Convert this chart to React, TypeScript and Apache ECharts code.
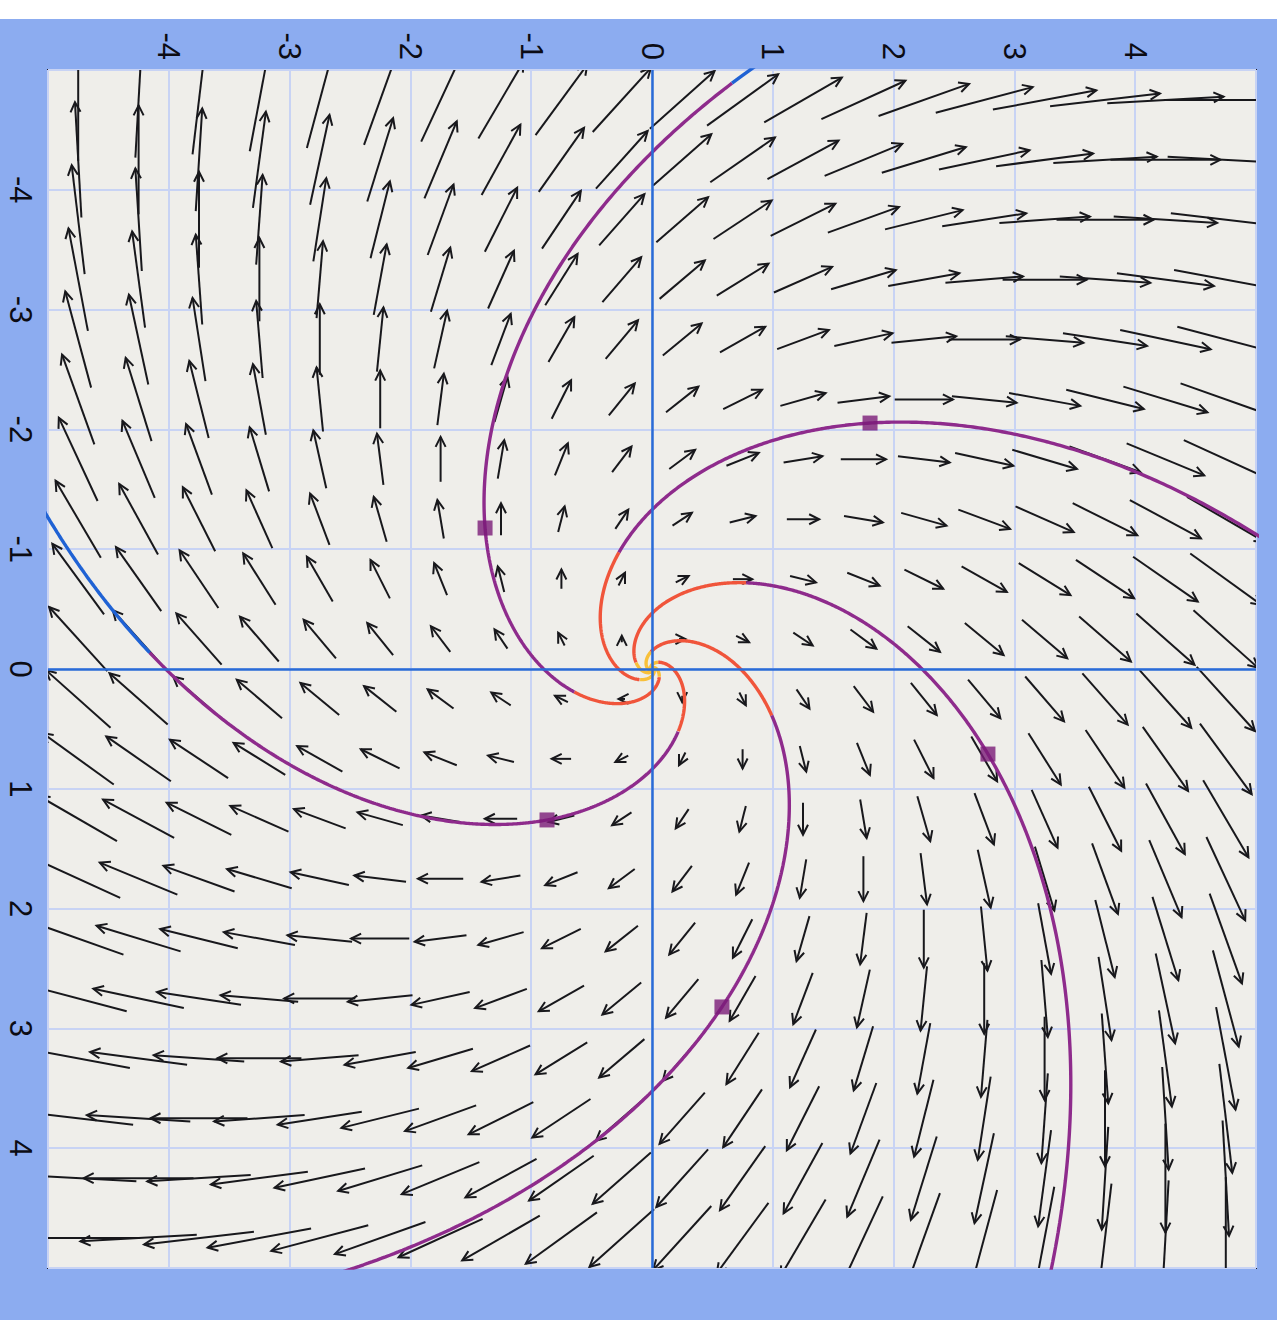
import React, { useEffect, useRef } from "react";
import * as echarts from "echarts";

// ---- axes ----
const AXIS_MIN = -5;
const AXIS_MAX = 5;
const TICK_STEP = 1;

// ---- direction-field sample positions (centres of the arrows) ----
const ARROW_COLS = [-4.75, -4.25, -3.75, -3.25, -2.75, -2.25, -1.75, -1.25, -0.75, -0.25, 0.25, 0.75, 1.25, 1.75, 2.25, 2.75, 3.25, 3.75, 4.25, 4.75];
const ARROW_ROWS = [-4.75, -4.25, -3.75, -3.25, -2.75, -2.25, -1.75, -1.25, -0.75, -0.25, 0.25, 0.75, 1.25, 1.75, 2.25, 2.75, 3.25, 3.75, 4.25, 4.75];

// ---- linear system read from the field: x' = a*x + b*y, y' = c*x + d*y ----
const FIELD_ROW_X = [1, -1];
const FIELD_ROW_Y = [1, 1];
const ARROW_SCALE = 0.107; // data units per unit of speed

// ---- initial points (square markers) of the five trajectories ----
const START_X = [1.805, -1.382, -0.869, 2.781, 0.579];
const START_Y = [-2.053, -1.177, 1.26, 0.71, 2.821];

// ---- time span and colour bands of the trajectories ----
const T_BACK = -5.5;
const T_FWD = 2.0;
const BAND_EDGES = [-3, -1, 1];
const BAND_COLORS = ["#f8c03a", "#f0553b", "#8e2b8c", "#1f62d4"];

function field(x: number, y: number): [number, number] {
  return [FIELD_ROW_X[0] * x + FIELD_ROW_X[1] * y, FIELD_ROW_Y[0] * x + FIELD_ROW_Y[1] * y];
}

function integrate(x0: number, y0: number, h: number, tStop: number) {
  const pts: { t: number; x: number; y: number }[] = [];
  let x = x0, y = y0, t = 0;
  pts.push({ t, x, y });
  while (h > 0 ? t < tStop : t > tStop) {
    const k1 = field(x, y);
    const k2 = field(x + (h / 2) * k1[0], y + (h / 2) * k1[1]);
    const k3 = field(x + (h / 2) * k2[0], y + (h / 2) * k2[1]);
    const k4 = field(x + h * k3[0], y + h * k3[1]);
    x += (h / 6) * (k1[0] + 2 * k2[0] + 2 * k3[0] + k4[0]);
    y += (h / 6) * (k1[1] + 2 * k2[1] + 2 * k3[1] + k4[1]);
    t += h;
    pts.push({ t, x, y });
    if (Math.abs(x) > 5.6 || Math.abs(y) > 5.6) break;
  }
  return pts;
}

function bandOf(t: number) {
  let b = 0;
  while (b < BAND_EDGES.length && t >= BAND_EDGES[b]) b++;
  return b;
}

function buildTrajectorySeries() {
  const series: any[] = [];
  START_X.forEach((sx, i) => {
    const sy = START_Y[i];
    const back = integrate(sx, sy, -0.005, T_BACK).reverse();
    const fwd = integrate(sx, sy, 0.005, T_FWD).slice(1);
    const all = back.concat(fwd);
    const segs: number[][][] = BAND_COLORS.map(() => []);
    let prevBand = -1;
    all.forEach((p) => {
      const b = bandOf(p.t);
      if (prevBand >= 0 && b !== prevBand) segs[prevBand].push([p.x, p.y]);
      segs[b].push([p.x, p.y]);
      prevBand = b;
    });
    segs.forEach((d, b) => {
      if (d.length < 2) return;
      series.push({
        type: "line",
        name: "traj" + i + "_" + b,
        data: d,
        showSymbol: false,
        symbol: "none",
        smooth: false,
        clip: true,
        silent: true,
        z: 3,
        lineStyle: { color: BAND_COLORS[b], width: 3.4 },
      });
    });
  });
  return series;
}

export default function App() {
  const ref = useRef<HTMLDivElement>(null);
  useEffect(() => {
    if (!ref.current) return;
    const chart = echarts.init(ref.current, undefined, { renderer: "svg" });

    const arrowData: number[][] = [];
    ARROW_ROWS.forEach((y) => {
      ARROW_COLS.forEach((x) => {
        const [u, v] = field(x, y);
        arrowData.push([x, y, u, v]);
      });
    });

    const labelStyle = {
      rotate: -90,
      fontSize: 31,
      color: "#0c0c14",
      fontFamily: "Liberation Sans, Arial, sans-serif",
      showMinLabel: false,
      showMaxLabel: false,
    };

    const option: any = {
      animation: false,
      backgroundColor: "#8cacf0",
      graphic: [
        { type: "rect", shape: { x: 0, y: 0, width: 1284, height: 19 }, style: { fill: "#ffffff" }, silent: true },
        { type: "rect", shape: { x: 1277, y: 0, width: 7, height: 1320 }, style: { fill: "#ffffff" }, silent: true },
      ],
      grid: {
        left: 48,
        top: 70,
        width: 1208,
        height: 1198,
        show: true,
        backgroundColor: "#efeeea",
        borderColor: "#1b1b2e",
        borderWidth: 2,
      },
      xAxis: {
        type: "value",
        position: "top",
        min: AXIS_MIN,
        max: AXIS_MAX,
        interval: TICK_STEP,
        axisLine: { show: false },
        axisTick: { show: false },
        axisLabel: { ...labelStyle, margin: 10 },
        splitLine: { show: true, lineStyle: { color: "#c8d3f4", width: 2 } },
      },
      yAxis: {
        type: "value",
        inverse: true,
        min: AXIS_MIN,
        max: AXIS_MAX,
        interval: TICK_STEP,
        axisLine: { show: false },
        axisTick: { show: false },
        axisLabel: { ...labelStyle, margin: 12 },
        splitLine: { show: true, lineStyle: { color: "#c8d3f4", width: 2 } },
      },
      series: [
        {
          type: "line",
          name: "axes",
          data: [],
          showSymbol: false,
          silent: true,
          z: 1,
          markLine: {
            silent: true,
            symbol: "none",
            label: { show: false },
            lineStyle: { color: "#2a6bd6", width: 2.5, type: "solid" },
            data: [{ xAxis: 0 }, { yAxis: 0 }],
          },
        },
        {
          type: "custom",
          name: "field",
          data: arrowData,
          clip: true,
          silent: true,
          z: 2,
          encode: { x: 0, y: 1 },
          renderItem: (params: any, api: any) => {
            const x = api.value(0), y = api.value(1), u = api.value(2), v = api.value(3);
            const p0 = api.coord([x - (ARROW_SCALE * u) / 2, y - (ARROW_SCALE * v) / 2]);
            const p1 = api.coord([x + (ARROW_SCALE * u) / 2, y + (ARROW_SCALE * v) / 2]);
            const dx = p1[0] - p0[0], dy = p1[1] - p0[1];
            const len = Math.hypot(dx, dy) || 1;
            const ux = dx / len, uy = dy / len;
            const hl = 10, hw = 5;
            const bx = p1[0] - ux * hl, by = p1[1] - uy * hl;
            const stroke = "#18181c";
            return {
              type: "group",
              children: [
                { type: "line", shape: { x1: p0[0], y1: p0[1], x2: p1[0], y2: p1[1] }, style: { stroke, lineWidth: 2 } },
                {
                  type: "polyline",
                  shape: { points: [[bx - uy * hw, by + ux * hw], [p1[0], p1[1]], [bx + uy * hw, by - ux * hw]] },
                  style: { stroke, lineWidth: 2, fill: "none" },
                },
              ],
            };
          },
        },
        ...buildTrajectorySeries(),
        {
          type: "scatter",
          name: "starts",
          data: START_X.map((x, i) => [x, START_Y[i]]),
          symbol: "rect",
          symbolSize: 15,
          itemStyle: { color: "#7a1b78" },
          silent: true,
          z: 4,
        },
      ],
    };
    chart.setOption(option);
    return () => chart.dispose();
  }, []);
  return <div ref={ref} style={{ position: "absolute", left: 0, top: 0, width: 1284, height: 1320 }} />;
}
